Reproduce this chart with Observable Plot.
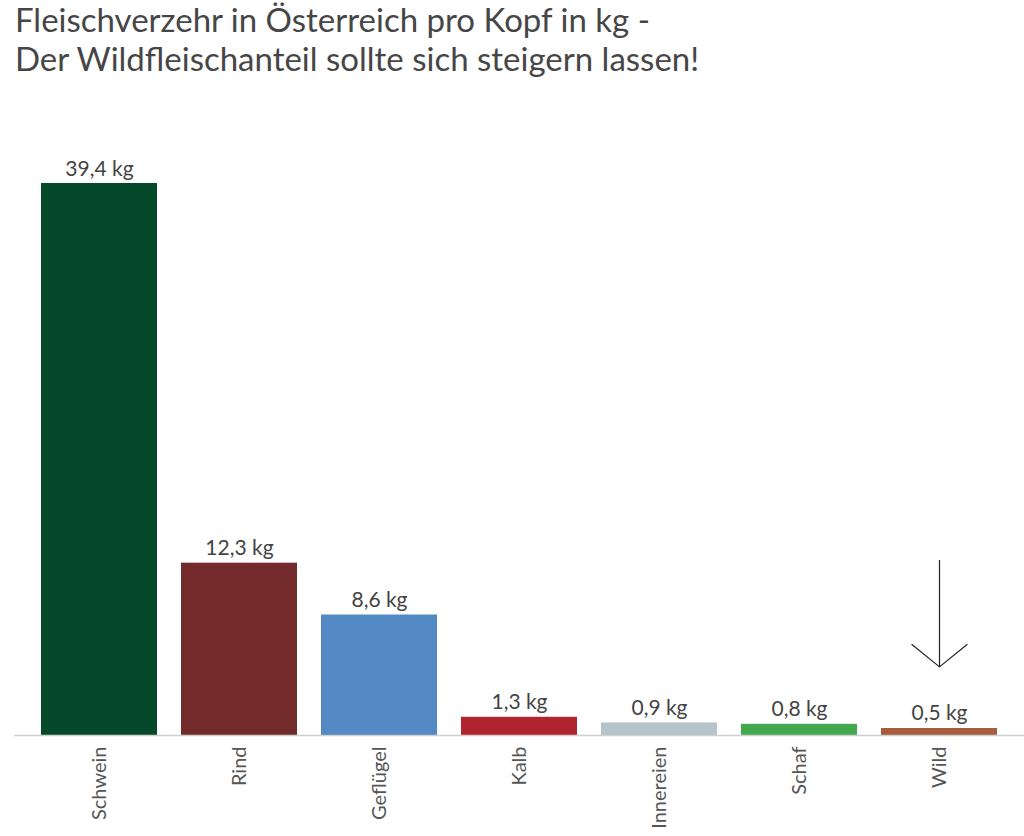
<!DOCTYPE html>
<html>
<head>
<meta charset="utf-8">
<script src="https://cdn.jsdelivr.net/npm/d3@7"></script>
<script src="https://cdn.jsdelivr.net/npm/@observablehq/plot@0.6"></script>
<style>
  html, body { margin: 0; padding: 0; background: #fff; }
  body { width: 1024px; height: 836px; overflow: hidden; font-family: Lato, sans-serif; }
  #title { box-sizing: border-box; height: 90px; padding: 0 0 0 15px; margin: 0;
           font-family: Lato, sans-serif; font-weight: 400; font-size: 33px; line-height: 39px; color: #464646; }
  svg { display: block; }
</style>
</head>
<body>
<div id="title">Fleischverzehr in Österreich pro Kopf in kg -<br>Der Wildfleischanteil sollte sich steigern lassen!</div>
<div id="chart"></div>
<script>
const categories = ["Schwein", "Rind", "Geflügel", "Kalb", "Innereien", "Schaf", "Wild"];
const values = [39.4, 12.3, 8.6, 1.3, 0.9, 0.8, 0.5];
const colors = ["#044a2a", "#722a2a", "#5389c4", "#b0242f", "#b4c4ca", "#43a94f", "#a85c3e"];
const unit = "kg";
// annotation arrow pointing down at "Wild" (values in kg on the y scale)
const arrowCategory = "Wild";
const arrowFrom = 12.5;
const arrowTo = 4.9;

const data = categories.map((c, i) => ({category: c, value: values[i], color: colors[i]}));
const fmt = v => v.toFixed(1).replace(".", ",") + " " + unit;

const chart = Plot.plot({
  width: 1024,
  height: 746,
  marginLeft: 14,
  marginRight: 0,
  marginTop: 93,
  marginBottom: 101,
  style: {fontFamily: "Lato, sans-serif", background: "#fff"},
  x: {domain: categories, padding: 0.17, label: null},
  y: {domain: [0, d3.max(values)], axis: null},
  marks: [
    Plot.barY(data, {x: "category", y: "value", fill: "color"}),
    Plot.ruleY([0], {stroke: "#cfcfcf", strokeWidth: 1.5}),
    Plot.text(data, {x: "category", y: "value", text: d => fmt(d.value), dy: -8, lineAnchor: "bottom", fontSize: 21, fill: "#444"}),
    Plot.axisX({tickRotate: -90, tickSize: 0, tickPadding: 11, fontSize: 20, fill: "#555", label: null}),
    Plot.arrow([{c: arrowCategory, y1: arrowFrom, y2: arrowTo}], {x1: "c", x2: "c", y1: "y1", y2: "y2", stroke: "#222", strokeWidth: 1.2, headAngle: 102, headLength: 80})
  ]
});
document.getElementById("chart").appendChild(chart);
</script>
</body>
</html>
